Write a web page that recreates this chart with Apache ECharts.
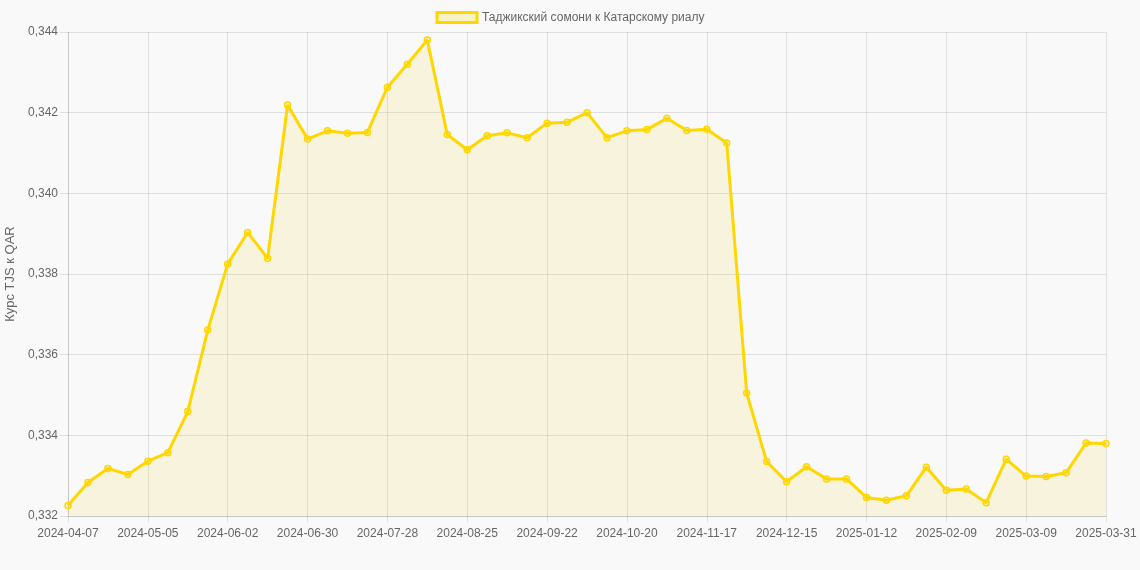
<!DOCTYPE html>
<html>
<head>
<meta charset="utf-8">
<script src="https://cdn.jsdelivr.net/npm/echarts@6/dist/echarts.min.js"></script>
<style>
html,body{margin:0;padding:0;background:#f9f9f9;}
#chart{width:1140px;height:570px;}
</style>
</head>
<body>
<div id="chart"></div>
<script>
const seriesName = 'Таджикский сомони к Катарскому риалу';
const yAxisTitle = 'Курс TJS к QAR';
const categories = [
  '2024-04-07','2024-04-14','2024-04-21','2024-04-28','2024-05-05','2024-05-12','2024-05-19','2024-05-26',
  '2024-06-02','2024-06-09','2024-06-16','2024-06-23','2024-06-30','2024-07-07','2024-07-14','2024-07-21',
  '2024-07-28','2024-08-04','2024-08-11','2024-08-18','2024-08-25','2024-09-01','2024-09-08','2024-09-15',
  '2024-09-22','2024-09-29','2024-10-06','2024-10-13','2024-10-20','2024-10-27','2024-11-03','2024-11-10',
  '2024-11-17','2024-11-24','2024-12-01','2024-12-08','2024-12-15','2024-12-22','2024-12-29','2025-01-05',
  '2025-01-12','2025-01-19','2025-01-26','2025-02-02','2025-02-09','2025-02-16','2025-02-23','2025-03-02',
  '2025-03-09','2025-03-16','2025-03-23','2025-03-30','2025-03-31'
];
const rates = [
  0.33226,0.33283,0.33318,0.33303,0.33336,0.33357,0.33459,0.33661,
  0.33825,0.33903,0.33839,0.34219,0.34135,0.34155,0.34149,0.34151,
  0.34263,0.34320,0.34380,0.34146,0.34108,0.34143,0.34150,0.34138,
  0.34174,0.34176,0.34200,0.34138,0.34155,0.34158,0.34186,0.34156,
  0.34159,0.34125,0.33505,0.33335,0.33285,0.33322,0.33292,0.33292,
  0.33246,0.33239,0.33250,0.33321,0.33264,0.33267,0.33233,0.33341,
  0.33299,0.33298,0.33307,0.33381,0.33380
];
const yMin = 0.332, yMax = 0.344, yStep = 0.002;

const gridColor = 'rgba(0,0,0,0.1)';
const textColor = '#666';
const chart = echarts.init(document.getElementById('chart'));
chart.setOption({
  backgroundColor: '#f9f9f9',
  animation: false,
  textStyle: { fontFamily: 'Liberation Sans, Arial, sans-serif' },
  legend: {
    top: 6,
    left: 'center',
    itemWidth: 40,
    itemHeight: 10,
    itemGap: 10,
    textStyle: { color: textColor, fontSize: 12 },
    data: [{
      name: seriesName,
      icon: 'rect',
      itemStyle: { color: 'rgba(255,215,0,0.2)', borderColor: '#FFD700', borderWidth: 3 }
    }]
  },
  grid: { left: 68, right: 34, top: 32, bottom: 54, containLabel: false, outerBoundsMode: 'none' },
  xAxis: {
    type: 'category',
    boundaryGap: false,
    data: categories,
    axisLine: { show: true, lineStyle: { color: gridColor } },
    axisTick: { show: true, interval: 3, length: 6, lineStyle: { color: gridColor } },
    axisLabel: { interval: 3, color: textColor, fontSize: 12, margin: 12 },
    splitLine: { show: true, interval: 3, lineStyle: { color: gridColor } }
  },
  yAxis: {
    type: 'value',
    min: yMin,
    max: yMax,
    interval: yStep,
    name: yAxisTitle,
    nameLocation: 'middle',
    nameGap: 47,
    nameTextStyle: { color: textColor, fontSize: 13 },
    axisLine: { show: true, lineStyle: { color: gridColor } },
    axisTick: { show: true, length: 8, lineStyle: { color: gridColor } },
    axisLabel: {
      color: textColor, fontSize: 12, margin: 10,
      formatter: v => v.toFixed(3).replace('.', ',')
    },
    splitLine: { show: true, lineStyle: { color: gridColor } }
  },
  series: [{
    name: seriesName,
    type: 'line',
    data: rates,
    symbol: 'circle',
    symbolSize: 6,
    showAllSymbol: true,
    lineStyle: { color: '#FFD700', width: 3 },
    itemStyle: { color: 'rgba(255,215,0,0.15)', borderColor: '#FFD700', borderWidth: 1.5 },
    areaStyle: { color: 'rgba(240,215,60,0.2)', origin: 'start' }
  }]
});
</script>
</body>
</html>
